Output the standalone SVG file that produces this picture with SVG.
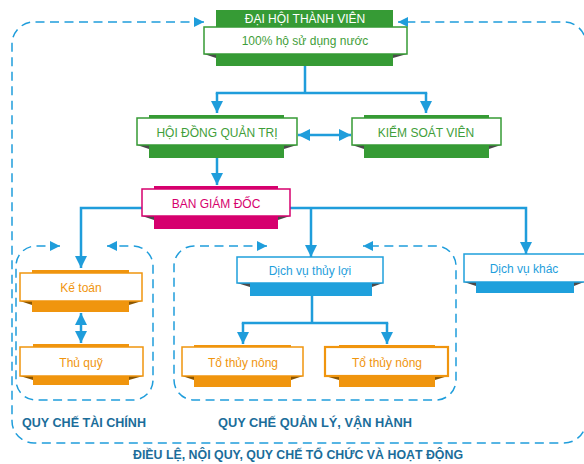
<svg xmlns="http://www.w3.org/2000/svg" width="584" height="464" viewBox="0 0 584 464">
<style>
.lbl{font-family:"Liberation Sans",Arial,sans-serif;font-size:12px;text-anchor:middle}
.ttl{font-family:"Liberation Sans",Arial,sans-serif;font-size:13px;font-weight:bold;fill:#1b6d9a}
.wb{fill:#fff;stroke-width:1.5}
.fold{fill:#4a4a4a}
.g .bar{fill:#369b35}.g .wb{stroke:#369b35}.g text{fill:#3f9e3a}
.m .bar{fill:#d6006e}.m .wb{stroke:#d6006e}.m text{fill:#d6006e}
.o .bar{fill:#f0950e}.o .wb{stroke:#f0950e}.o text{fill:#f0950e}.o .fold{fill:#8a5500}
.b .bar{fill:#1fa0dc}.b .wb{stroke:#1fa0dc}.b text{fill:#1fa0dc}
.ln{fill:none;stroke:#1f9ddb;stroke-width:2.5}
.dash{fill:none;stroke:#1f9ddb;stroke-width:1.5;stroke-dasharray:9 5.5}
</style>
<defs>
<marker id="ah" markerUnits="userSpaceOnUse" markerWidth="12" markerHeight="12" viewBox="0 0 12 12" refX="12" refY="6" orient="auto-start-reverse">
<path d="M0,0 L12,6 L0,12 Z" fill="#1f9ddb"/>
</marker>
<marker id="ahs" markerUnits="userSpaceOnUse" markerWidth="10" markerHeight="10" viewBox="0 0 10 10" refX="10" refY="5" orient="auto-start-reverse">
<path d="M0,0 L10,5 L0,10 Z" fill="#1f9ddb"/>
</marker>
</defs>

<g id="connectors">
<path class="ln" d="M305,66 V93 M215.8,93 H427.2"/>
<path class="ln" d="M217,93 V113" marker-end="url(#ah)"/>
<path class="ln" d="M426,93 V113" marker-end="url(#ah)"/>
<path class="ln" d="M298,135 H351" marker-start="url(#ah)" marker-end="url(#ah)"/>
<path class="ln" d="M217,158 V185" marker-end="url(#ah)"/>
<path class="ln" d="M142,208 H81 V268" marker-end="url(#ah)"/>
<path class="ln" d="M290,208 H526 V254" marker-end="url(#ah)"/>
<path class="ln" d="M311,208 V257" marker-end="url(#ah)"/>
<path class="ln" d="M81,313 V343" marker-start="url(#ah)" marker-end="url(#ah)"/>
<path class="ln" d="M312,296 V323 M241.8,323 H388.2"/>
<path class="ln" d="M243,323 V344" marker-end="url(#ah)"/>
<path class="ln" d="M387,323 V344" marker-end="url(#ah)"/>
<path class="dash" d="M204,22 H34 A22,22 0 0 0 12,44 V421 A22,22 0 0 0 34,443 H564 A22,22 0 0 0 586,421 V44 A22,22 0 0 0 564,22 H398" marker-start="url(#ahs)" marker-end="url(#ahs)"/>
<path class="dash" d="M60,246 H36 A20,20 0 0 0 16,266 V380 A20,20 0 0 0 36,400 H133 A20,20 0 0 0 153,380 V266 A20,20 0 0 0 133,246 H107" marker-start="url(#ahs)" marker-end="url(#ahs)"/>
<path class="dash" d="M267,246 H194 A20,20 0 0 0 174,266 V380 A20,20 0 0 0 194,400 H436 A20,20 0 0 0 456,380 V266 A20,20 0 0 0 436,246 H363" marker-start="url(#ahs)" marker-end="url(#ahs)"/>
</g>

<g id="dai-hoi" class="g">
<rect class="bar" x="216" y="10" width="177" height="56"/>
<polygon class="fold" points="204,54 216,54 216,58"/>
<polygon class="fold" points="407,54 393,54 393,58"/>
<rect class="wb" x="204" y="27" width="203" height="27"/>
<text class="lbl" x="305" y="23" style="fill:#fff">ĐẠI HỘI THÀNH VIÊN</text>
<text class="lbl" x="305" y="45">100% hộ sử dụng nước</text>
</g>

<g id="hdqt" class="g">
<rect class="bar" x="149" y="115" width="135" height="43"/>
<polygon class="fold" points="137,145 149,145 149,149"/>
<polygon class="fold" points="297,145 284,145 284,149"/>
<rect class="wb" x="137" y="118" width="160" height="27"/>
<text class="lbl" x="217" y="137">HỘI ĐỒNG QUẢN TRỊ</text>
</g>

<g id="ksv" class="g">
<rect class="bar" x="364" y="115" width="125" height="43"/>
<polygon class="fold" points="352,145 364,145 364,149"/>
<polygon class="fold" points="501,145 489,145 489,149"/>
<rect class="wb" x="352" y="118" width="149" height="27"/>
<text class="lbl" x="426" y="137">KIỂM SOÁT VIÊN</text>
</g>

<g id="bgd" class="m">
<rect class="bar" x="154" y="186" width="124" height="43"/>
<polygon class="fold" points="142,216 154,216 154,220"/>
<polygon class="fold" points="290,216 278,216 278,220"/>
<rect class="wb" x="142" y="189" width="148" height="27"/>
<text class="lbl" x="216" y="208">BAN GIÁM ĐỐC</text>
</g>

<g id="ke-toan" class="o">
<rect class="bar" x="32" y="270" width="97" height="42"/>
<polygon class="fold" points="20,301 32,301 32,305"/>
<polygon class="fold" points="142,301 129,301 129,305"/>
<rect class="wb" x="20" y="273" width="122" height="28"/>
<text class="lbl" x="81" y="292">Kế toán</text>
</g>

<g id="thu-quy" class="o">
<rect class="bar" x="33" y="344" width="96" height="41"/>
<polygon class="fold" points="20,376 33,376 33,380"/>
<polygon class="fold" points="143,376 129,376 129,380"/>
<rect class="wb" x="20" y="347" width="123" height="29"/>
<text class="lbl" x="81" y="367">Thủ quỹ</text>
</g>

<g id="dv-thuy-loi" class="b">
<rect class="bar" x="250" y="257" width="122" height="39"/>
<polygon class="fold" points="237,283 250,283 250,287"/>
<polygon class="fold" points="383,283 372,283 372,287"/>
<rect class="wb" x="237" y="257" width="146" height="26"/>
<text class="lbl" x="310" y="275">Dịch vụ thủy lợi</text>
</g>

<g id="to-thuy-nong-1" class="o">
<rect class="bar" x="194" y="345" width="97" height="42"/>
<polygon class="fold" points="182,376 194,376 194,380"/>
<polygon class="fold" points="303,376 291,376 291,380"/>
<rect class="wb" x="182" y="347" width="121" height="29"/>
<text class="lbl" x="243" y="367">Tổ thủy nông</text>
</g>

<g id="to-thuy-nong-2" class="o">
<rect class="bar" x="339" y="345" width="96" height="42"/>
<polygon class="fold" points="325,376 339,376 339,380"/>
<polygon class="fold" points="448,376 435,376 435,380"/>
<rect class="wb" x="325" y="347" width="123" height="29" style="stroke-width:2.2"/>
<text class="lbl" x="387" y="367">Tổ thủy nông</text>
</g>

<g id="dv-khac" class="b">
<rect class="bar" x="476" y="254" width="98" height="39"/>
<polygon class="fold" points="464,282 476,282 476,286"/>
<polygon class="fold" points="584,282 574,282 574,286"/>
<rect class="wb" x="464" y="254" width="122" height="28"/>
<text class="lbl" x="524" y="273">Dịch vụ khác</text>
</g>

<g id="labels">
<text class="ttl" x="22" y="427" textLength="124" lengthAdjust="spacingAndGlyphs">QUY CHẾ TÀI CHÍNH</text>
<text class="ttl" x="218" y="427" textLength="194" lengthAdjust="spacingAndGlyphs">QUY CHẾ QUẢN LÝ, VẬN HÀNH</text>
<text class="ttl" x="133" y="459" textLength="330" lengthAdjust="spacingAndGlyphs">ĐIỀU LỆ, NỘI QUY, QUY CHẾ TỔ CHỨC VÀ HOẠT ĐỘNG</text>
</g>
</svg>
